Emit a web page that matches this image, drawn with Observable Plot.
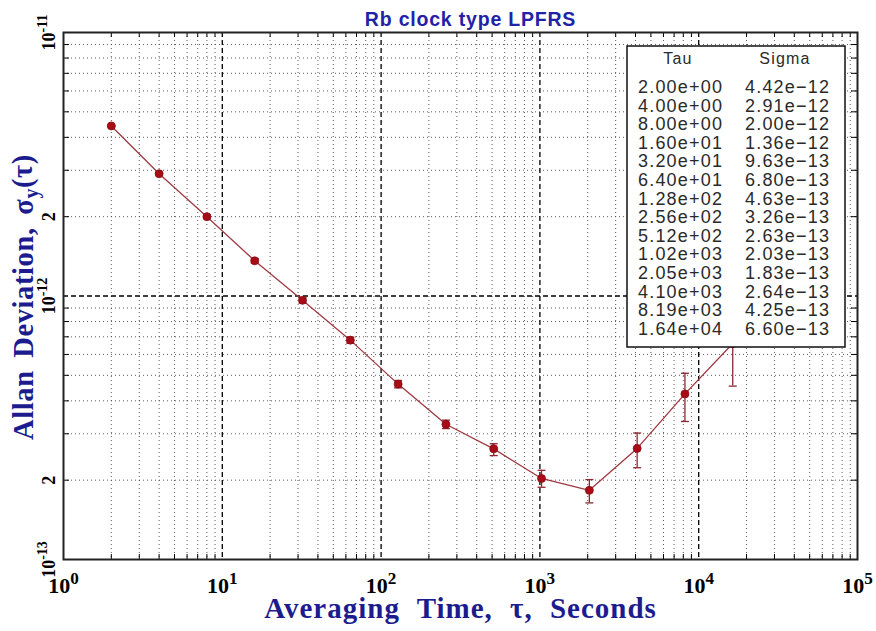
<!DOCTYPE html>
<html><head><meta charset="utf-8">
<script src="https://cdn.jsdelivr.net/npm/d3@7"></script>
<script src="https://cdn.jsdelivr.net/npm/@observablehq/plot@0.6"></script>
<style>
html,body{margin:0;padding:0;background:#fff;}
#chart{position:relative;width:876px;height:631px;}
</style></head><body><div id="chart"></div>
<script>
// ---- data ----
const title = "Rb clock type LPFRS";
const xLabel = "Averaging Time, τ, Seconds";
const yLabel = "Allan Deviation, σ_y(τ)";
const tau = [2, 4, 8, 16, 32, 64, 128, 256, 512, 1024, 2048, 4096, 8192, 16384];
const sigma = [4.42e-12, 2.91e-12, 2.00e-12, 1.36e-12, 9.63e-13, 6.80e-13, 4.63e-13,
               3.26e-13, 2.63e-13, 2.03e-13, 1.83e-13, 2.64e-13, 4.25e-13, 6.60e-13];
const sigmaLow = [4.39e-12, 2.88e-12, 1.97e-12, 1.335e-12, 9.40e-13, 6.62e-13, 4.48e-13,
                  3.14e-13, 2.48e-13, 1.88e-13, 1.64e-13, 2.23e-13, 3.34e-13, 4.55e-13];
const sigmaHigh = [4.45e-12, 2.94e-12, 2.03e-12, 1.385e-12, 9.86e-13, 6.98e-13, 4.78e-13,
                   3.38e-13, 2.75e-13, 2.18e-13, 2.01e-13, 3.02e-13, 5.09e-13, 9.57e-13];
const xDecades = [1, 10, 100, 1000, 10000, 100000];
const xTickLabels = ["10^0", "10^1", "10^2", "10^3", "10^4", "10^5"];
const yDecades = [1e-13, 1e-12, 1e-11];
const yTickValues = [1e-13, 2e-13, 1e-12, 2e-12, 1e-11];
const yTickLabels = ["10^-13", "2", "10^-12", "2", "10^-11"];
const tableHeader = ["Tau", "Sigma"];

// ---- derived ----
const minorOf = decs => decs.slice(0, -1).flatMap(d => [2,3,4,5,6,7,8,9].map(m => m * d));
const xMinor = minorOf(xDecades);
const yMinor = minorOf(yDecades);
const xInner = xDecades.slice(1, -1);
const yInner = yDecades.slice(1, -1);
const points = tau.map((t, i) => ({tau: t, sigma: sigma[i], lo: sigmaLow[i], hi: sigmaHigh[i]}));

const W = 876, H = 631, mL = 63, mR = 19, mT = 32, mB = 72;
const fw = W - mL - mR, fh = H - mT - mB;
const blue = "#1c1c8e";
const serif = "'Liberation Serif', 'DejaVu Serif', serif";
const capSymbol = {draw(ctx) { ctx.moveTo(-4, 0); ctx.lineTo(4, 0); }};

const svg = Plot.plot({
  width: W, height: H,
  marginLeft: mL, marginRight: mR, marginTop: mT, marginBottom: mB,
  x: {type: "log", domain: [1, 1e5], axis: null},
  y: {type: "log", domain: [1e-13, 1e-11], axis: null},
  style: {background: "#fff"},
  marks: [
    Plot.ruleX(xMinor, {stroke: "#333", strokeDasharray: "1,3", strokeWidth: 1, strokeOpacity: 0.8}),
    Plot.ruleY(yMinor, {stroke: "#333", strokeDasharray: "1,3", strokeWidth: 1, strokeOpacity: 0.8}),
    Plot.ruleX(xInner, {stroke: "#000", strokeDasharray: "5,3", strokeWidth: 1.3}),
    Plot.ruleY(yInner, {stroke: "#000", strokeDasharray: "5,3", strokeWidth: 1.3}),
    // inward tick marks on all four sides
    Plot.ruleX(xMinor, {stroke: "#000", insetTop: fh - 5}),
    Plot.ruleX(xMinor, {stroke: "#000", insetBottom: fh - 5}),
    Plot.ruleY(yMinor, {stroke: "#000", insetRight: fw - 6}),
    Plot.ruleY(yMinor, {stroke: "#000", insetLeft: fw - 6}),
    Plot.frame({stroke: "#222", strokeWidth: 2}),
    // data
    Plot.line(points, {x: "tau", y: "sigma", stroke: "#9e3a42", strokeWidth: 1.3}),
    Plot.ruleX(points, {x: "tau", y1: "lo", y2: "hi", stroke: "#8e2630", strokeWidth: 1.3}),
    Plot.dot(points, {x: "tau", y: "lo", symbol: capSymbol, stroke: "#8e2630", strokeWidth: 1.3, fill: "none"}),
    Plot.dot(points, {x: "tau", y: "hi", symbol: capSymbol, stroke: "#8e2630", strokeWidth: 1.3, fill: "none"}),
    Plot.dot(points, {x: "tau", y: "sigma", r: 4, fill: "#a80c16", stroke: "#8a0a12", strokeWidth: 0.8}),
    // tick labels
    Plot.text(xDecades, {x: d => d, frameAnchor: "bottom", dy: 33, lineAnchor: "bottom", textAnchor: "middle",
      text: (d, i) => xTickLabels[i], className: "sup", fontSize: 22, fontWeight: "bold",
      fontFamily: serif, fill: "#000"}),
    Plot.text(yTickValues, {y: d => d, frameAnchor: "left", dx: -9, rotate: -90, lineAnchor: "bottom",
      textAnchor: "middle", text: (d, i) => yTickLabels[i], className: "sup", fontSize: 18,
      fontWeight: "bold", fontFamily: serif, fill: "#000"}),
    // axis labels and title
    Plot.text([xLabel], {frameAnchor: "bottom", dy: 58, lineAnchor: "bottom", textAnchor: "middle", text: d => d,
      fontSize: 29, fontWeight: "bold", fontFamily: serif, fill: blue, className: "xlab"}),
    Plot.text([yLabel], {frameAnchor: "left", dx: -31, dy: 1, rotate: -90, lineAnchor: "bottom",
      textAnchor: "middle", text: d => d, className: "sub", fontSize: 28.5, fontWeight: "bold",
      fontFamily: serif, fill: blue}),
    Plot.text([title], {frameAnchor: "top", dx: 10, dy: -7, lineAnchor: "bottom", textAnchor: "middle", text: d => d,
      fontSize: 19.5, fontWeight: "bold", fontFamily: "'Liberation Sans', Arial, sans-serif", fill: "#2222a8",
      className: "ttl"})
  ]
});

// superscripts for "10^n"
d3.select(svg).selectAll(".sup text").each(function() {
  const t = this.textContent;
  if (!t.includes("^")) return;
  const [base, exp] = t.split("^");
  const sel = d3.select(this);
  sel.text(null);
  sel.append("tspan").text(base);
  sel.append("tspan").attr("dy", "-0.5em").attr("font-size", "0.78em").text(exp);
});
// subscript for sigma_y
d3.select(svg).selectAll(".sub text").attr("letter-spacing", "0.6px").attr("word-spacing", "5px").each(function() {
  const t = this.textContent;
  const m = t.match(/^(.*)_(\w)(.*)$/);
  if (!m) return;
  const sel = d3.select(this);
  sel.text(null);
  sel.append("tspan").text(m[1]);
  sel.append("tspan").attr("dy", "0.25em").attr("font-size", "0.7em").text(m[2]);
  sel.append("tspan").attr("dy", "-0.18em").text(m[3]);
});
d3.select(svg).selectAll(".xlab text").attr("letter-spacing", "1px").attr("word-spacing", "9px");
d3.select(svg).selectAll(".ttl text").attr("letter-spacing", "0.8px");

// value table box (top right of the frame)
const fmtExp = v => v.toExponential(2).replace(/e([+-])(\d)$/, "e$10$2").replace("-", "\u2212");
const bx = mL + fw - 230, by = mT + 14, bw = 218, bh = 301;
const g = d3.select(svg).append("g")
  .attr("font-family", "'Liberation Sans', Arial, sans-serif")
  .attr("font-size", 18).attr("fill", "#2a2a2a").attr("letter-spacing", "1.2px")
  .attr("text-anchor", "start");
g.append("rect").attr("x", bx).attr("y", by).attr("width", bw).attr("height", bh)
  .attr("fill", "#fff").attr("stroke", "#111").attr("stroke-width", 1.5);
g.append("text").attr("x", bx + 51).attr("y", by + 18).attr("text-anchor", "middle")
  .attr("font-size", 16).text(tableHeader[0]);
g.append("text").attr("x", bx + 158).attr("y", by + 18).attr("text-anchor", "middle")
  .attr("font-size", 16).text(tableHeader[1]);
points.forEach((p, i) => {
  const yy = by + 47 + i * 18.6;
  g.append("text").attr("x", bx + 11).attr("y", yy).text(fmtExp(p.tau));
  g.append("text").attr("x", bx + 118).attr("y", yy).text(fmtExp(p.sigma));
});

document.getElementById("chart").appendChild(svg);
</script></body></html>
